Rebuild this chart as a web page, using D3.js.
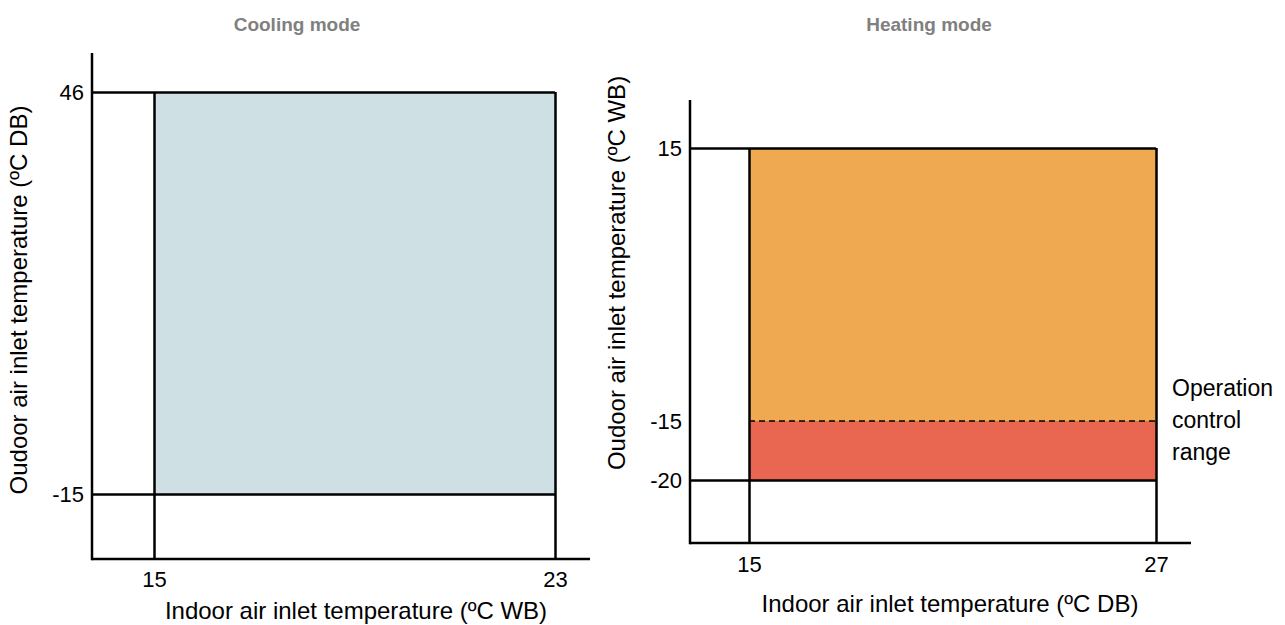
<!DOCTYPE html>
<html>
<head>
<meta charset="utf-8">
<script src="https://cdn.jsdelivr.net/npm/d3@7"></script>
<style>
  body { margin: 0; background: #fff; }
  text { font-family: "Liberation Sans", Arial, sans-serif; }
</style>
</head>
<body>
<div id="chart"></div>
<script>
// cooling mode
var coolingXTicks = [15, 23];
var coolingYTicks = [-15, 46];
var coolingBands = [{ x0: 15, x1: 23, y0: -15, y1: 46, fill: "#cfe0e4" }];

// heating mode
var heatingXTicks = [15, 27];
var heatingYTicks = [-20, -15, 15];
var heatingBands = [
  { x0: 15, x1: 27, y0: -15, y1: 15, fill: "#efa950" },
  { x0: 15, x1: 27, y0: -20, y1: -15, fill: "#e96651" }
];
var dashedAt = -15;
var noteLines = ["Operation", "control", "range"];

var svg = d3.select("#chart").append("svg")
    .attr("width", 1285)
    .attr("height", 625);

function drawPanel(cfg) {
    // not to scale in the original, so a piecewise scale on the tick values
    var x = d3.scaleLinear().domain(cfg.xTicks).range(cfg.xRange);
    var y = d3.scaleLinear().domain(cfg.yTicks).range(cfg.yRange);
    var g = svg.append("g");

    g.selectAll("rect.band")
        .data(cfg.bands)
        .enter().append("rect")
            .attr("class", "band")
            .attr("x", function(d) { return x(d.x0); })
            .attr("y", function(d) { return y(d.y1); })
            .attr("width", function(d) { return x(d.x1) - x(d.x0); })
            .attr("height", function(d) { return y(d.y0) - y(d.y1); })
            .style("fill", function(d) { return d.fill; });

    var xMax = d3.max(cfg.xTicks), yMax = d3.max(cfg.yTicks);

    var yAxis = d3.axisLeft(y)
        .tickValues(cfg.yTicks)
        .tickFormat(String)
        .tickSize(-(x(xMax) - cfg.axisX))
        .tickPadding(8);
    var xAxis = d3.axisBottom(x)
        .tickValues(cfg.xTicks)
        .tickFormat(String)
        .tickSize(-(cfg.axisY - y(yMax)))
        .tickPadding(cfg.xPad);

    var ya = g.append("g")
        .attr("transform", "translate(" + cfg.axisX + ",0)")
        .call(yAxis);
    var xa = g.append("g")
        .attr("transform", "translate(0," + cfg.axisY + ")")
        .call(xAxis);

    [ya, xa].forEach(function(a) {
        a.select(".domain").remove();
        a.selectAll(".tick line").attr("stroke", "#000").attr("stroke-width", 2.5);
        a.selectAll(".tick text")
            .attr("fill", "#000")
            .style("font-size", "22px");
    });

    // axis lines reach past the box
    g.append("line")
        .attr("x1", cfg.axisX).attr("x2", cfg.axisX)
        .attr("y1", cfg.axisTop).attr("y2", cfg.axisY + 1.25)
        .attr("stroke", "#000").attr("stroke-width", 2.5);
    g.append("line")
        .attr("x1", cfg.axisX).attr("x2", cfg.axisRight)
        .attr("y1", cfg.axisY).attr("y2", cfg.axisY)
        .attr("stroke", "#000").attr("stroke-width", 2.5);

    g.append("text")
        .attr("x", cfg.titleX)
        .attr("y", 31)
        .attr("text-anchor", "middle")
        .style("font-size", "19px")
        .style("font-weight", "bold")
        .style("fill", "#808080")
        .text(cfg.title);

    g.append("text")
        .attr("x", cfg.xLabelX)
        .attr("y", cfg.xLabelY)
        .attr("text-anchor", "middle")
        .style("font-size", "24px")
        .style("fill", "#000")
        .text(cfg.xLabel);

    g.append("text")
        .attr("transform", "translate(" + cfg.yLabelX + "," + cfg.yLabelY + ") rotate(-90)")
        .attr("text-anchor", "middle")
        .attr("dy", "0.35em")
        .style("font-size", "24px")
        .style("fill", "#000")
        .text(cfg.yLabel);

    return { g: g, x: x, y: y };
}

drawPanel({
    title: "Cooling mode", titleX: 297,
    xTicks: coolingXTicks, yTicks: coolingYTicks, bands: coolingBands,
    xRange: [154, 555], yRange: [494, 92],
    axisX: 92, axisY: 559, axisTop: 53, axisRight: 590, xPad: 12,
    xLabel: "Indoor air inlet temperature (ºC WB)", xLabelX: 356, xLabelY: 619,
    yLabel: "Oudoor air inlet temperature (ºC DB)", yLabelX: 19, yLabelY: 300
});

var heat = drawPanel({
    title: "Heating mode", titleX: 929,
    xTicks: heatingXTicks, yTicks: heatingYTicks, bands: heatingBands,
    xRange: [749, 1156], yRange: [480, 421, 148],
    axisX: 690, axisY: 543, axisTop: 100, axisRight: 1191, xPad: 13,
    xLabel: "Indoor air inlet temperature (ºC DB)", xLabelX: 950, xLabelY: 612,
    yLabel: "Oudoor air inlet temperature (ºC WB)", yLabelX: 617, yLabelY: 273
});

// the -15 tick is only a dashed limit inside the box
heat.g.selectAll(".tick")
    .filter(function(d) { return d === dashedAt; })
    .select("line").remove();
heat.g.append("line")
    .attr("x1", heat.x(15)).attr("x2", heat.x(27))
    .attr("y1", heat.y(dashedAt)).attr("y2", heat.y(dashedAt))
    .attr("stroke", "#000")
    .attr("stroke-width", 1.5)
    .attr("stroke-dasharray", "6,4");

heat.g.append("text")
    .attr("x", 1172)
    .attr("y", 396)
    .style("font-size", "23px")
    .style("fill", "#000")
    .selectAll("tspan")
    .data(noteLines)
    .enter().append("tspan")
        .attr("x", 1172)
        .attr("dy", function(d, i) { return i === 0 ? 0 : 32; })
        .text(function(d) { return d; });
</script>
</body>
</html>
